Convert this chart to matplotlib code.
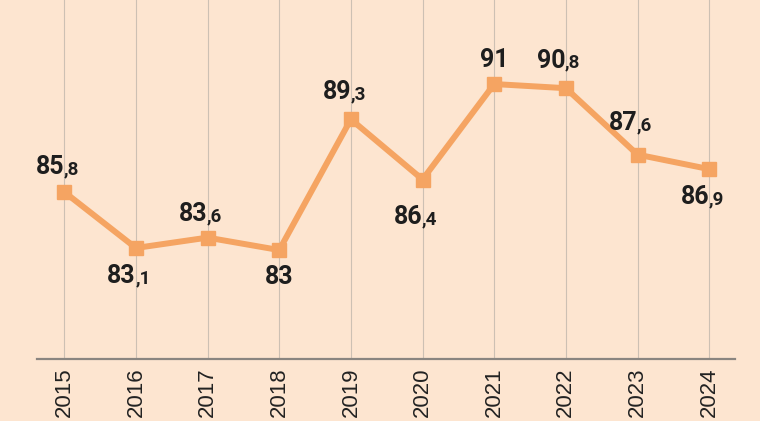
import matplotlib.pyplot as plt

# data
years = [2015, 2016, 2017, 2018, 2019, 2020, 2021, 2022, 2023, 2024]
values = [85.8, 83.1, 83.6, 83.0, 89.3, 86.4, 91.0, 90.8, 87.6, 86.9]
labels = ['85,8', '83,1', '83,6', '83', '89,3', '86,4', '91', '90,8', '87,6', '86,9']

# label placement relative to the marker (points, + is up, label centre)
label_dy = [19, -19, 18, -18, 21, -26, 19, 21, 24, -19]

BG = '#fde5d0'
ORANGE = '#f5a462'
INK = '#1e1e1e'
BIG, SMALL = 18, 13.5

fig = plt.figure(figsize=(7.6, 4.21), dpi=100, facecolor=BG)
ax = fig.add_axes([37 / 760, 62 / 421, 698 / 760, 359 / 421])
ax.set_facecolor(BG)

ax.plot(years, values, color=ORANGE, lw=4.3, marker='s', ms=10,
        solid_joinstyle='miter', zorder=3)

ax.set_xlim(2014.62, 2024.36)
ax.set_ylim(77.75, 95.05)

# vertical grid, bottom axis only
ax.set_xticks(years)
ax.set_xticklabels([str(y) for y in years], rotation=90,
                   fontfamily='Liberation Sans', fontsize=16, color='#222222')
ax.tick_params(axis='x', length=0, pad=6)
ax.set_yticks([])
ax.grid(axis='x', color='#cdc0b3', lw=0.8)
ax.set_axisbelow(True)
for s in ['top', 'left', 'right']:
    ax.spines[s].set_visible(False)
ax.spines['bottom'].set_color('#8a8580')
ax.spines['bottom'].set_linewidth(1.6)

# value labels: big integer part, smaller decimal part on the same baseline
cap = 0.711 * BIG / 2
for x, v, lab, dy in zip(years, values, labels, label_dy):
    whole, _, dec = lab.partition(',')
    ha = 'right' if dec else 'center'
    ax.annotate(whole, (x, v), xytext=(0, dy - cap), textcoords='offset points',
                ha=ha, va='baseline', fontsize=BIG, fontweight='bold',
                fontfamily='Roboto', color=INK)
    if dec:
        ax.annotate(',' + dec, (x, v), xytext=(-0.5, dy - cap),
                    textcoords='offset points', ha='left', va='baseline',
                    fontsize=SMALL, fontweight='bold', fontfamily='Roboto',
                    color=INK)

fig.savefig('out.png', dpi=100, facecolor=BG)
